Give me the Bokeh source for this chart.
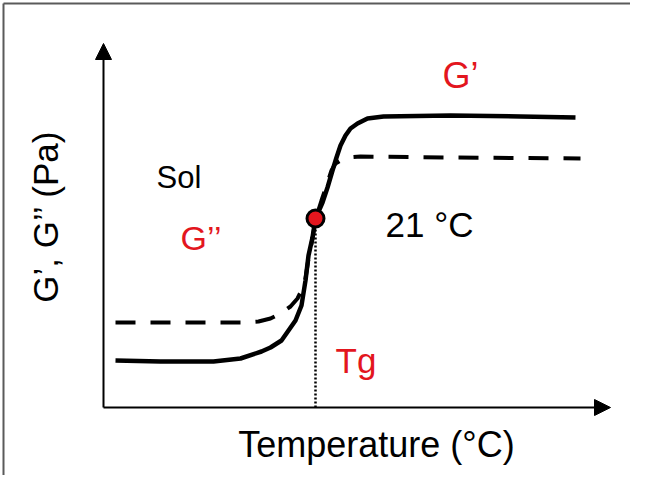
import math
from bokeh.plotting import figure
from bokeh.models import Range1d, Arrow, NormalHead, Label
from bokeh.embed import file_html
from bokeh.resources import INLINE

# ---- data (arbitrary temperature / modulus units) ----
g1_temp = [2.4, 11.4, 22.0, 27.4, 31.6, 33.4, 35.6, 37.0, 38.4, 39.6, 40.4, 41.0, 41.8,
           42.4, 43.8, 44.8, 45.8, 46.6, 47.4, 48.4, 49.4, 50.8, 52.8, 56.0, 69.4, 83.4, 94.4]
g1_mod = [9.4, 9.2, 9.2, 9.8, 11.2, 12.0, 13.4, 15.4, 17.4, 20.4, 25.4, 30.4, 34.0,
          37.8, 41.0, 44.0, 47.4, 50.0, 52.4, 54.4, 55.8, 56.8, 57.8, 58.2, 58.4, 58.2, 58.0]

g2_temp = [2.4, 15.4, 27.8, 31.0, 33.4, 35.4, 37.4, 38.8, 39.8, 40.4, 41.0, 41.8, 42.4,
           43.6, 44.6, 45.6, 46.4, 47.4, 48.8, 51.4, 69.4, 95.4]
g2_mod = [17.0, 17.0, 17.0, 17.2, 17.8, 18.8, 20.2, 21.8, 23.8, 25.8, 29.8, 33.8, 37.6,
          41.4, 44.4, 47.4, 48.8, 49.4, 50.0, 50.2, 50.0, 49.8]

tg_temp = [42.4]
tg_mod = [37.8]

x_axis_end = 101.4
y_axis_end = 72.8

RED = "#e3161e"
FONT = "Liberation Sans"

x_rng = Range1d(-20.6, 105.4)
y_rng = Range1d(-13.6, 81.4)

p = figure(width=630, height=475, x_range=x_rng, y_range=y_rng,
           x_axis_type=None, y_axis_type=None,
           toolbar_location=None, output_backend="svg", min_border=0)
p.outline_line_color = None
p.background_fill_color = "white"
p.border_fill_color = "white"

# picture border (top and left edges only, as in the reference)
edge_x = x_rng.start + 0.6
edge_y = y_rng.end - 0.6
p.segment(x0=[edge_x, edge_x], y0=[edge_y, edge_y], x1=[x_rng.end, edge_x],
          y1=[edge_y, y_rng.start], line_color="#5a5a5a", line_width=2)

# axes as arrows
p.add_layout(Arrow(x_start=0, y_start=0, x_end=x_axis_end, y_end=0, line_width=2,
                   line_color="black",
                   end=NormalHead(size=16, fill_color="black", line_color="black")))
p.add_layout(Arrow(x_start=0, y_start=0, x_end=0, y_end=y_axis_end, line_width=2,
                   line_color="black",
                   end=NormalHead(size=16, fill_color="black", line_color="black")))

# dotted drop line at Tg
p.segment(x0=tg_temp, y0=[0], x1=tg_temp, y1=tg_mod, line_color="black",
          line_width=2.5, line_dash="2 2")

# curves
p.line(g2_temp, g2_mod, line_color="black", line_width=4, line_dash="20 15")
p.line(g1_temp, g1_mod, line_color="black", line_width=4.5)

# gel point
p.scatter(tg_temp, tg_mod, size=17, fill_color=RED, line_color="black", line_width=3)

def lab(x, y, text, size, color="black", align="left", angle=0.0):
    p.add_layout(Label(x=x, y=y, x_units="screen", y_units="screen", text=text,
                       text_font=FONT, text_font_size=size, text_color=color,
                       text_align=align, text_baseline="alphabetic", angle=angle))

lab(442, 400, "G\u2019", "36px", RED)
lab(180, 238, "G\u2019\u2019", "34px", RED)
lab(156, 298, "Sol", "31px")
lab(385, 251, "21 \u00b0C", "35px")
lab(335, 115, "Tg", "35px", RED)
lab(376, 31, "Temperature (\u00b0C)", "36px", align="center")
lab(45, 259, "G\u2019, G\u2019\u2019 (Pa)", "35px", align="center", angle=math.pi / 2)

open("out.html", "w").write(file_html(p, INLINE))
